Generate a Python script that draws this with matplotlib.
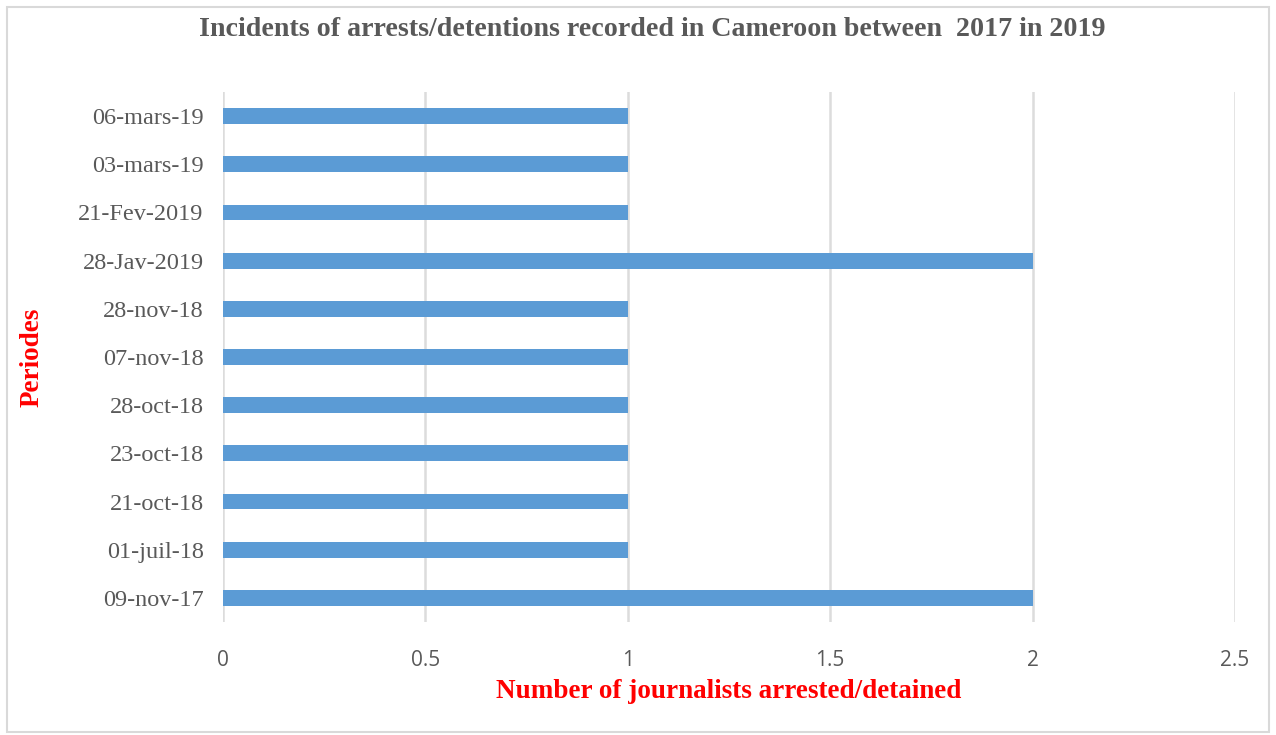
import numpy as np
import matplotlib
matplotlib.use('Agg')
import matplotlib.pyplot as plt
from matplotlib.patches import Rectangle

# periods, bottom to top as drawn
periods = ['09-nov-17', '01-juil-18', '21-oct-18', '23-oct-18', '28-oct-18',
           '07-nov-18', '28-nov-18', '28-Jav-2019', '21-Fev-2019',
           '03-mars-19', '06-mars-19']
counts = [2, 1, 1, 1, 1, 1, 1, 2, 1, 1, 1]
xticks = [0, 0.5, 1, 1.5, 2, 2.5]
xticklabels = ['0', '0.5', '1', '1.5', '2', '2.5']

W, H = 1276, 735
fig = plt.figure(figsize=(W/100, H/100), dpi=100)
ax = fig.add_axes([223/W, 1-622/H, (1235-223)/W, (622-92)/H])

y = np.arange(len(periods))
ax.barh(y, counts, height=0.33, color='#5B9BD5', zorder=3)
ax.set_ylim(-0.5, len(periods)-0.5)
ax.set_xlim(0, 2.5)

ax.set_xticks(xticks)
ax.set_xticklabels(xticklabels, fontfamily='Open Sans', fontsize=15, color='#595959')
ax.set_yticks(y)
ax.set_yticklabels(periods, fontfamily='Liberation Serif', fontsize=17.5, color='#595959')
ax.tick_params(axis='x', length=0, pad=20)
ax.tick_params(axis='y', length=0, pad=14)
for s in ax.spines.values():
    s.set_visible(False)
ax.grid(axis='x', color='#DCDCDC', linewidth=1.8, zorder=0)

ax.set_xlabel('Number of journalists arrested/detained', fontfamily='Liberation Serif',
              fontsize=19.5, fontweight='bold', color='red', labelpad=6)
fig.text(32/W, 1-357/H, 'Periodes', rotation=90, ha='center', va='center',
         fontfamily='Liberation Serif', fontsize=19.5, fontweight='bold', color='red')

fig.text(652/W, 1-29/H, 'Incidents of arrests/detentions recorded in Cameroon between  2017 in 2019',
         ha='center', va='center', fontfamily='Liberation Serif', fontsize=20.2,
         fontweight='bold', color='#595959')

# outer frame
fig.patches.append(Rectangle((7/W, 3/H), 1-14/W, 1-10/H, transform=fig.transFigure,
                             fill=False, edgecolor='#D9D9D9', linewidth=1.5))

fig.savefig('out.png', dpi=100)
